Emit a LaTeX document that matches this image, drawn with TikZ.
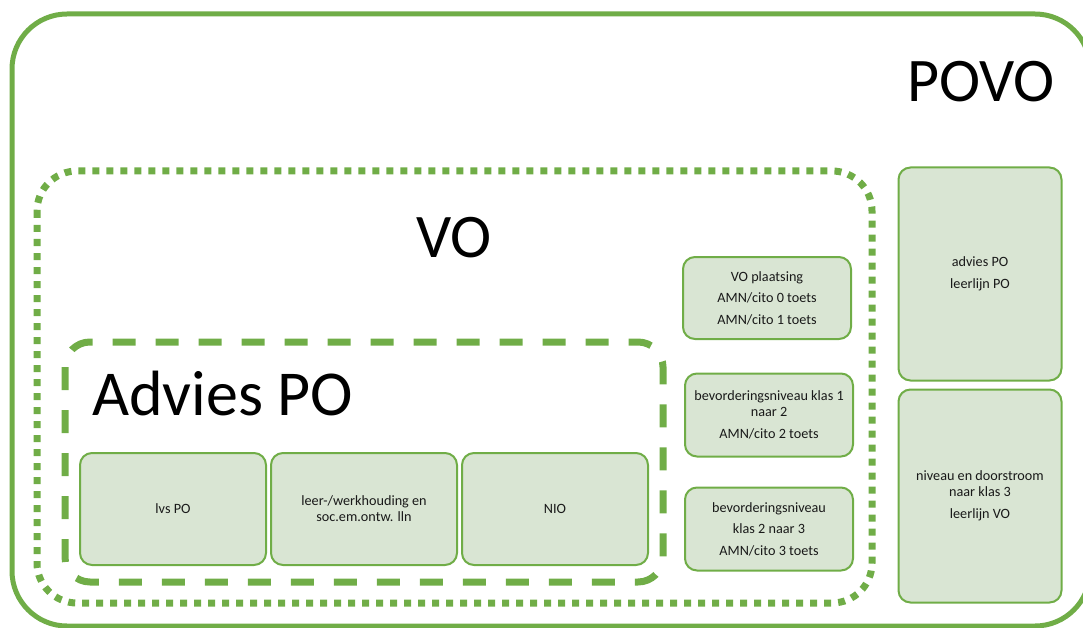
\documentclass[tikz,border=0pt]{standalone}
\usepackage{fontspec}
\setmainfont{Carlito}
\definecolor{grn}{HTML}{70AD47}
\definecolor{lgrn}{HTML}{D9E5D3}
\begin{document}
\begin{tikzpicture}[x=1pt,y=-1pt,
 outerbox/.style={draw=grn,line width=5pt,rounded corners=55pt},
 vobox/.style={draw=grn,line width=7pt,dash pattern=on 7pt off 7pt,rounded corners=40pt},
 advbox/.style={draw=grn,line width=7pt,dash pattern=on 23pt off 20pt,rounded corners=25pt},
 item/.style={draw=grn,fill=lgrn,line width=2pt,rounded corners=12pt,inner sep=0pt,
   font=\fontsize{14.2}{16}\selectfont,align=center,text=black!90},
 big/.style={font=\fontsize{62}{70}\selectfont,anchor=base,inner sep=0pt}]
\useasboundingbox (0,0) rectangle (1083,628);
\begin{scope}
\clip (0,0) rectangle (1083,628);
\draw[outerbox] (12,14) rectangle (1090,626);
\end{scope}
\draw[vobox] (37,171) rectangle (872,603);
\draw[advbox] (65,342) rectangle (663,582);
\node[big] (povo) at (981,102) {POVO};
\node[big] (vo) at (454,257) {VO};
\node[big,anchor=base west,font=\fontsize{64}{70}\selectfont] (adv) at (92,415) {Advies PO};
\node[item,minimum width=186,minimum height=112] (lvs) at (173,509) {lvs PO};
\node[item,minimum width=186,minimum height=112] (leer) at (364,509) {leer-/werkhouding en\\soc.em.ontw. lln};
\node[item,minimum width=186,minimum height=112] (nio) at (555,509) {NIO};
\node[item,minimum width=168,minimum height=82] (vopl) at (767,298) {VO plaatsing\\[5.5pt]AMN/cito 0 toets\\[5.5pt]AMN/cito 1 toets};
\node[item,minimum width=168,minimum height=83] (bev1) at (769,415) {bevorderingsniveau klas 1\\naar 2\\[5.5pt]AMN/cito 2 toets};
\node[item,minimum width=168,minimum height=83] (bev2) at (769,529) {bevorderingsniveau\\[5.5pt]klas 2 naar 3\\[5.5pt]AMN/cito 3 toets};
\node[item,minimum width=163,minimum height=213] (advpo) at (980,274) {advies PO\\[5.5pt]leerlijn PO};
\node[item,minimum width=163,minimum height=213] (niv) at (980,496) {niveau en doorstroom\\naar klas 3\\[5.5pt]leerlijn VO};
\end{tikzpicture}
\end{document}
